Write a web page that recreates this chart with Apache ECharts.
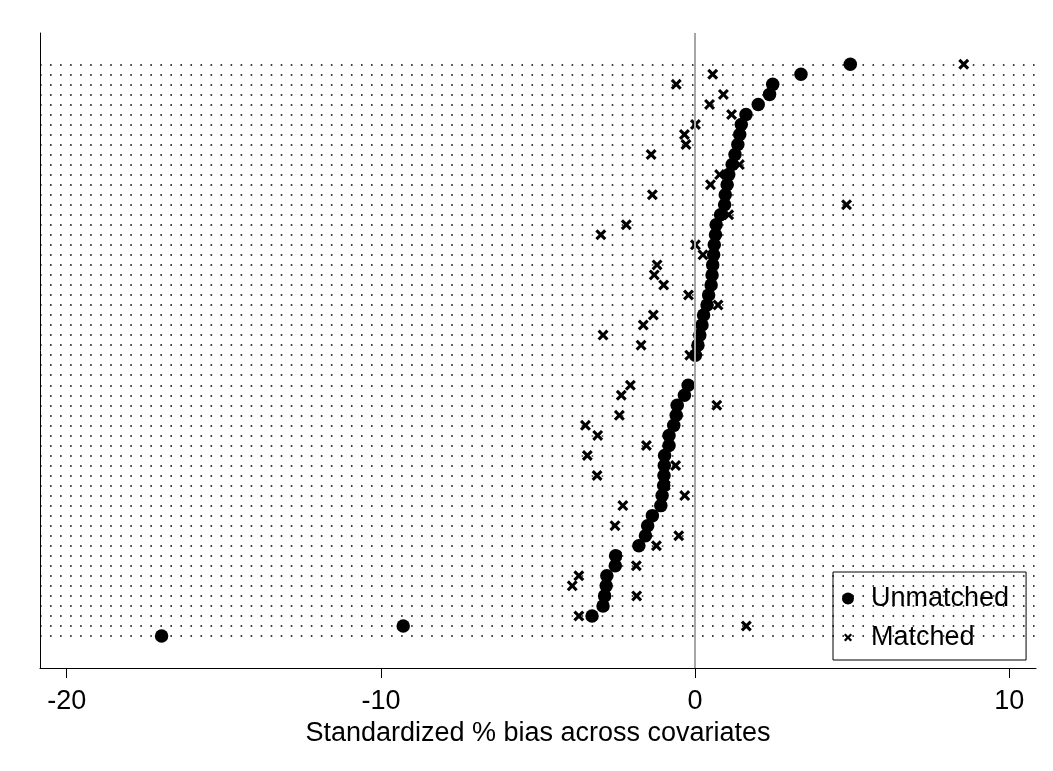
<!DOCTYPE html>
<html>
<head>
<meta charset="utf-8">
<script src="https://cdn.jsdelivr.net/npm/echarts@6/dist/echarts.min.js"></script>
<style>
  html, body { margin: 0; padding: 0; background: #fff; }
  #chart { width: 1053px; height: 771px; }
</style>
</head>
<body>
<div id="chart"></div>
<script>
// Row index (0 = top) for each covariate
const rows = [];
for (let i = 0; i < 58; i++) rows.push(i);

// Standardized % bias before matching (circles)
const unmatched = [
  4.94, 3.37, 2.47, 2.37, 2.01, 1.62, 1.47, 1.42, 1.36, 1.27,
  1.18, 1.07, 1.02, 0.96, 0.94, 0.81, 0.67, 0.65, 0.61, 0.59,
  0.56, 0.54, 0.51, 0.43, 0.38, 0.27, 0.22, 0.15, 0.09, 0.01,
  null, null, -0.22, -0.34, -0.57, -0.60, -0.68, -0.83, -0.83, -0.97,
  -0.98, -0.99, -1.00, -1.05, -1.09, -1.36, -1.51, -1.58, -1.79, -2.53,
  -2.54, -2.81, -2.83, -2.88, -2.93, -3.28, -9.29, -16.98
];

// Standardized % bias after matching (crosses)
const matched = [
  8.55, 0.56, -0.60, 0.90, 0.46, 1.16, 0.01, -0.34, -0.29, -1.40,
  1.41, 0.78, 0.49, -1.36, 4.82, 1.07, -2.19, -3.00, 0.01, 0.25,
  -1.21, -1.30, -1.00, -0.21, 0.73, -1.33, -1.65, -2.93, -1.72, -0.17,
  null, null, -2.06, -2.35, 0.69, -2.41, -3.49, -3.10, -1.55, -3.43,
  -0.62, -3.12, -0.95, -0.33, -2.30, -1.36, -2.55, -0.52, -1.23, -2.50,
  -1.87, -3.70, -3.91, -1.86, -2.93, -3.70, 1.63, null
];

const xTicks = [-20, -10, 0, 10];
const seriesNames = ['Unmatched', 'Matched'];
const xTitle = 'Standardized % bias across covariates';

const crossPath = 'path://M2,0L5,3L8,0L10,2L7,5L10,8L8,10L5,7L2,10L0,8L3,5L0,2Z';
const crossLegend = 'path://M-2.4,-2.4L-2.4,-2.4ZM12.4,12.4L12.4,12.4ZM2,0L5,3L8,0L10,2L7,5L10,8L8,10L5,7L2,10L0,8L3,5L0,2Z';

const FONT = 'Liberation Sans, Arial, sans-serif';

const chart = echarts.init(document.getElementById('chart'), null, { renderer: 'canvas' });

const pairs = (vals) => vals.map((v, i) => v === null ? null : [v, rows[i]]).filter(d => d !== null);

chart.setOption({
  animation: false,
  backgroundColor: '#ffffff',
  textStyle: { fontFamily: FONT },
  grid: { left: 40, right: 17, top: 33, bottom: 103, containLabel: false },
  legend: {
    orient: 'vertical',
    left: 833,
    top: 572,
    padding: [13, 17, 9, 9],
    itemWidth: 14,
    itemHeight: 12,
    itemGap: 12,
    backgroundColor: '#ffffff',
    borderColor: '#000000',
    borderWidth: 1,
    borderRadius: 0,
    textStyle: { fontSize: 27, color: '#000', fontFamily: FONT, padding: [0, 0, 0, 11] },
    data: [
      { name: seriesNames[0], icon: 'circle', itemStyle: { color: '#000', opacity: 1 } },
      { name: seriesNames[1], icon: crossLegend, itemStyle: { color: '#000', opacity: 1 } }
    ]
  },
  xAxis: {
    type: 'value',
    min: -20.85,
    max: 10.85,
    name: xTitle,
    nameLocation: 'middle',
    nameGap: 43,
    nameTextStyle: { fontSize: 27, color: '#000', fontFamily: FONT },
    axisLine: { show: true, onZero: false, lineStyle: { color: '#000', width: 1 } },
    axisTick: { show: true, length: 10, customValues: xTicks, lineStyle: { color: '#000', width: 1 } },
    axisLabel: { show: true, customValues: xTicks, fontSize: 27, color: '#000', margin: 20, fontFamily: FONT },
    splitLine: { show: false }
  },
  yAxis: {
    type: 'value',
    inverse: true,
    min: -3.12,
    max: 60.19,
    axisLine: { show: true, onZero: false, lineStyle: { color: '#000', width: 1 } },
    axisTick: { show: false },
    axisLabel: { show: false },
    splitLine: { show: false }
  },
  series: [
    {
      name: 'guides',
      type: 'scatter',
      data: [],
      z: 1,
      silent: true,
      markLine: {
        silent: true,
        symbol: ['none', 'none'],
        animation: false,
        label: { show: false },
        data: rows.map(r => ({ yAxis: r, lineStyle: { color: '#000', width: 1.6, type: [1.6, 8.43] } }))
          .concat([{ xAxis: 0, lineStyle: { color: '#a6a6a6', width: 2, type: 'solid' } }])
      }
    },
    {
      name: seriesNames[0],
      type: 'scatter',
      z: 3,
      symbol: 'circle',
      symbolSize: 13.5,
      itemStyle: { color: '#000', opacity: 1 },
      data: pairs(unmatched)
    },
    {
      name: seriesNames[1],
      type: 'scatter',
      z: 4,
      symbol: crossPath,
      symbolSize: 11,
      itemStyle: { color: '#000', opacity: 1 },
      data: pairs(matched)
    }
  ]
});
</script>
</body>
</html>
